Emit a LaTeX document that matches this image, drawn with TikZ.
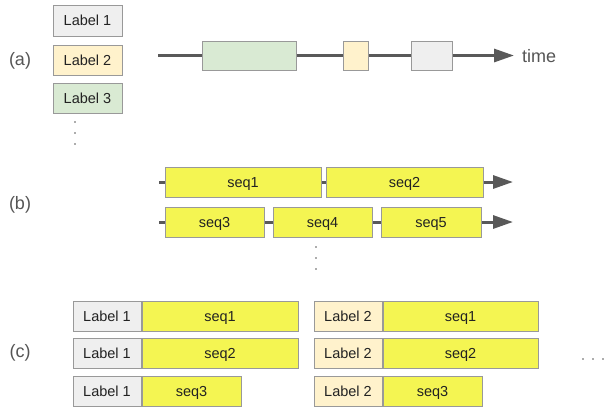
\documentclass[tikz,border=0pt]{standalone}
\usepackage{fontspec}
\setmainfont{Liberation Sans}
\usetikzlibrary{arrows.meta}
\definecolor{lgray}{HTML}{EFEFEF}
\definecolor{lcream}{HTML}{FFF2CC}
\definecolor{lgreen}{HTML}{D9EAD3}
\definecolor{lyellow}{HTML}{F4F552}
\definecolor{bordc}{HTML}{999999}
\definecolor{linec}{HTML}{595959}
\definecolor{txtc}{HTML}{222222}
\definecolor{captc}{HTML}{555555}
\tikzset{
  box/.style={draw=bordc, line width=1bp, inner sep=0pt, minimum height=30bp, text=txtc, text height=10.4bp, text depth=0bp, font=\fontsize{14.5bp}{17bp}\selectfont},
  tl/.style={draw=linec, line width=3bp},
  tla/.style={tl, -{Triangle[length=20bp,width=13bp]}},
  capt/.style={text=captc, font=\fontsize{18bp}{21bp}\selectfont, inner sep=0pt},
  dotc/.style={fill=linec, draw=none},
}
\begin{document}
\begin{tikzpicture}[x=1bp,y=-1bp]
\useasboundingbox (0,0) rectangle (608,407);
% ---------- (a)
\node[capt] (capA) at (20,61) {(a)};
\node[box, fill=lgray, minimum width=69bp, minimum height=31bp] (l1) at (87.5,20.5) {Label 1};
\node[box, fill=lcream, minimum width=69bp] (l2) at (87.5,60.5) {Label 2};
\node[box, fill=lgreen, minimum width=69bp] (l3) at (87.5,98) {Label 3};
\fill[dotc] (75,122) circle (0.9bp) (75,133) circle (0.9bp) (75,144) circle (0.9bp);
\coordinate (a0) at (158,55.5);
\coordinate (a1) at (514,55.5);
\node[box, fill=lgreen, minimum width=94bp, minimum height=29bp] (ta) at (249,55.5) {};
\node[box, fill=lcream, minimum width=25bp, minimum height=29bp] (tb) at (355.5,55.5) {};
\node[box, fill=lgray, minimum width=41bp, minimum height=29bp] (tc) at (431.5,55.5) {};
\draw[tl] (a0) -- (ta.west);
\draw[tl] (ta.east) -- (tb.west);
\draw[tl] (tb.east) -- (tc.west);
\draw[tla] (tc.east) -- (a1);
\node[capt, anchor=west] (time) at (522,56) {time};
% ---------- (b)
\node[capt] (capB) at (20,205) {(b)};
\coordinate (b0) at (159,182);
\coordinate (b1) at (513,182);
\node[box, fill=lyellow, minimum width=156bp] (s1) at (243,182) {seq1};
\node[box, fill=lyellow, minimum width=157bp] (s2) at (404.5,182) {seq2};
\draw[tl] (b0) -- (s1.west);
\draw[tl] (s1.east) -- (s2.west);
\draw[tla] (s2.east) -- (b1);
\coordinate (c0) at (159,222);
\coordinate (c1) at (513,222);
\node[box, fill=lyellow, minimum width=99bp] (s3) at (214.5,222) {seq3};
\node[box, fill=lyellow, minimum width=99bp] (s4) at (322.5,222) {seq4};
\node[box, fill=lyellow, minimum width=100bp] (s5) at (431,222) {seq5};
\draw[tl] (c0) -- (s3.west);
\draw[tl] (s3.east) -- (s4.west);
\draw[tl] (s4.east) -- (s5.west);
\draw[tla] (s5.east) -- (c1);
\fill[dotc] (316,247) circle (0.9bp) (316,258) circle (0.9bp) (316,269) circle (0.9bp);
% ---------- (c)
\node[capt] (capC) at (20,353) {(c)};
\node[box, fill=lgray, minimum width=68bp] (p1) at (107,316) {Label 1};
\node[box, fill=lyellow, minimum width=156bp, anchor=west] (q1) at (p1.east) {seq1};
\node[box, fill=lgray, minimum width=68bp] (p2) at (107,353) {Label 1};
\node[box, fill=lyellow, minimum width=156bp, anchor=west] (q2) at (p2.east) {seq2};
\node[box, fill=lgray, minimum width=68bp] (p3) at (107,391) {Label 1};
\node[box, fill=lyellow, minimum width=99bp, anchor=west] (q3) at (p3.east) {seq3};
\node[box, fill=lcream, minimum width=68bp] (r1) at (348,316) {Label 2};
\node[box, fill=lyellow, minimum width=155bp, anchor=west] (u1) at (r1.east) {seq1};
\node[box, fill=lcream, minimum width=68bp] (r2) at (348,353) {Label 2};
\node[box, fill=lyellow, minimum width=155bp, anchor=west] (u2) at (r2.east) {seq2};
\node[box, fill=lcream, minimum width=68bp] (r3) at (348,391) {Label 2};
\node[box, fill=lyellow, minimum width=99bp, anchor=west] (u3) at (r3.east) {seq3};
\fill[dotc] (583,359) circle (0.9bp) (593,359) circle (0.9bp) (603,359) circle (0.9bp);
\end{tikzpicture}
\end{document}
